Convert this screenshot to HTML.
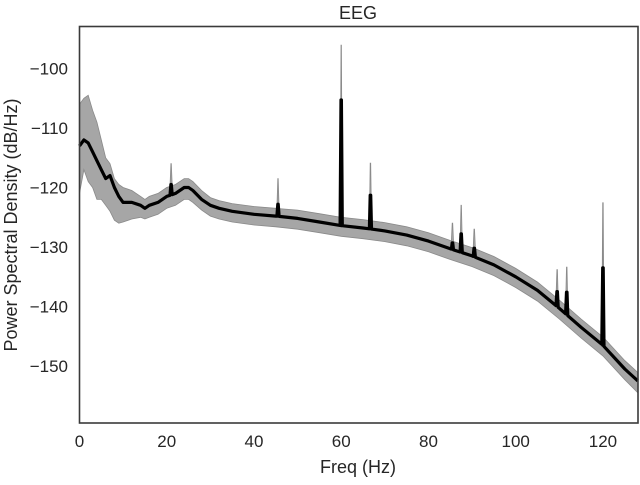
<!DOCTYPE html>
<html><head><meta charset="utf-8"><style>
body{margin:0;background:#fff;}
svg text{font-family:"Liberation Sans",sans-serif;fill:#262626;}
</style></head><body>
<svg id="chart" width="640" height="480" viewBox="0 0 640 480" xmlns="http://www.w3.org/2000/svg">
<text x="358" y="19" font-size="18" text-anchor="middle">EEG</text>
<g id="band"></g>
<g id="line"></g>
<rect x="79.5" y="26.5" width="558.5" height="396.5" fill="none" stroke="#3a3a3a" stroke-width="1.6"/>
<g id="xticks"></g>
<g id="yticks"></g>
<text x="358" y="473" font-size="18" text-anchor="middle">Freq (Hz)</text>
<text transform="translate(17,225) rotate(-90)" font-size="18" text-anchor="middle">Power Spectral Density (dB/Hz)</text>
</svg>
<script>
const freqs=[0,1,2,3,4,5,6,7,8,9,10,12,14,15,16,18,20,22,24,25,26,28,30,32,35,40,45,50,55,60,65,70,75,80,85,90,95,100,105,110,115,120,125,128];
const meanDb=[-113,-112,-112.5,-114,-115.5,-117,-118.5,-118,-120,-121.5,-122.5,-122.5,-123,-123.5,-123,-122.5,-121.5,-121,-120,-120,-120.5,-122,-123,-123.5,-124,-124.5,-124.8,-125.2,-125.8,-126.4,-126.8,-127.3,-128,-129,-130.3,-131.5,-133,-135,-137.3,-140.3,-143.5,-146.5,-150.5,-152.5];
const upperDb=[-106,-105,-104.5,-107,-109,-112,-115,-116,-118.5,-119.5,-120,-120.5,-121.5,-122,-121.5,-121,-120,-119.5,-118.5,-118.5,-119,-120.5,-121.7,-122.2,-122.7,-123.2,-123.5,-123.8,-124.4,-125,-125.4,-125.9,-126.6,-127.6,-128.9,-130.1,-131.6,-133.6,-135.9,-138.9,-142.1,-145.1,-149.1,-151.1];
const lowerDb=[-121,-117,-119,-120,-122,-122,-123,-124,-125.5,-126,-125.8,-125.3,-125,-125.3,-125,-124.5,-123.5,-123,-122,-122,-122.5,-123.8,-124.8,-125.3,-125.8,-126.3,-126.6,-127,-127.6,-128.2,-128.6,-129.1,-129.8,-130.8,-132.1,-133.3,-134.8,-136.8,-139.1,-142.1,-145.3,-148.3,-152.3,-154.5];
const spikeFreqs=[21,45.5,60,66.7,85.5,87.5,90.5,109.5,111.7,120];
const spikeMean=[-119.5,-122.8,-105.3,-121.3,-129.3,-127.8,-130.2,-137.5,-137.6,-133.5];
const spikeUpper=[-116,-118.5,-96,-115.9,-126,-123,-127,-133.8,-133.4,-122.5];
const xTicks=[0,20,40,60,80,100,120];
const yTicks=[-100,-110,-120,-130,-140,-150];

const X=f=>79.5+f*4.362;
const Y=d=>68.5+(-100-d)*5.95;
const NS="http://www.w3.org/2000/svg";
function interp(arr,f){for(let i=0;i<freqs.length-1;i++){if(f>=freqs[i]&&f<=freqs[i+1]){const t=(f-freqs[i])/(freqs[i+1]-freqs[i]);return arr[i]+t*(arr[i+1]-arr[i]);}}return arr[arr.length-1];}
function series(arr,peaks){
  let pts=freqs.map((f,i)=>[f,arr[i]]);
  spikeFreqs.forEach((f,i)=>{
    if(!peaks){return;}
    pts.push([f-0.25,interp(arr,f-0.25)]);pts.push([f-0.05,peaks[i]]);pts.push([f+0.05,peaks[i]]);pts.push([f+0.25,interp(arr,f+0.25)]);
  });
  pts.sort((a,b)=>a[0]-b[0]);
  return pts;
}
const up=series(upperDb,spikeUpper);
const lo=series(lowerDb,null);
const mn=series(meanDb,spikeMean);
let d="M"+up.map(p=>X(p[0]).toFixed(1)+","+Y(p[1]).toFixed(1)).join("L");
d+="L"+lo.slice().reverse().map(p=>X(p[0]).toFixed(1)+","+Y(p[1]).toFixed(1)).join("L")+"Z";
const band=document.createElementNS(NS,"path");


band.setAttribute("d",d);band.setAttribute("fill","#a6a6a6");band.setAttribute("stroke","#8a8a8a");band.setAttribute("stroke-width","0.8");
document.getElementById("band").appendChild(band);
const ln=document.createElementNS(NS,"path");


ln.setAttribute("d","M"+mn.map(p=>X(p[0]).toFixed(1)+","+Y(p[1]).toFixed(1)).join("L"));
ln.setAttribute("fill","none");ln.setAttribute("stroke","#000");ln.setAttribute("stroke-width","3.2");ln.setAttribute("stroke-linejoin","round");
document.getElementById("line").appendChild(ln);
xTicks.forEach(v=>{const t=document.createElementNS(NS,"text");


t.setAttribute("x",X(v));t.setAttribute("y",447);t.setAttribute("font-size","17");t.setAttribute("text-anchor","middle");t.textContent=v;document.getElementById("xticks").appendChild(t);});
yTicks.forEach(v=>{const t=document.createElementNS(NS,"text");


t.setAttribute("x",68);t.setAttribute("y",Y(v)+6);t.setAttribute("font-size","17");t.setAttribute("text-anchor","end");t.textContent="\u2212"+Math.abs(v);document.getElementById("yticks").appendChild(t);});
</script>
</body></html>
